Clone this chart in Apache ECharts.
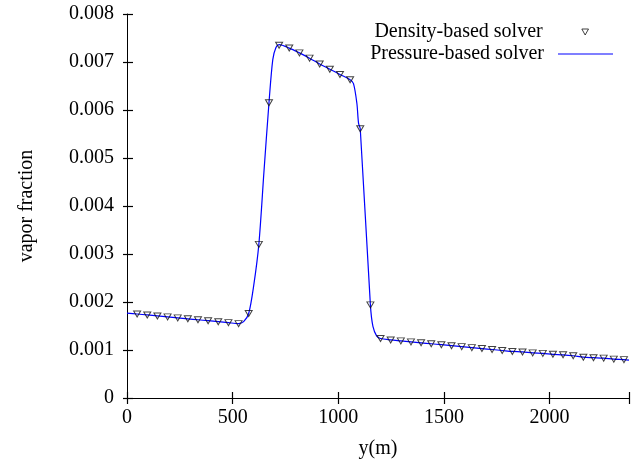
<!DOCTYPE html>
<html>
<head>
<meta charset="utf-8">
<script src="https://cdn.jsdelivr.net/npm/echarts@6/dist/echarts.min.js"></script>
<style>
html,body{margin:0;padding:0;background:#fff;}
#chart{width:632px;height:468px;}
</style>
</head>
<body>
<div id="chart"></div>
<script>
// Density-based solver (markers)
var markerX = [48,96,144,192,240,288,336,384,432,480,528,576,624,672,720,768,816,864,912,960,1008,1056,1104,1152,1200,1248,1296,1344,1392,1440,1488,1536,1584,1632,1680,1728,1776,1824,1872,1920,1968,2016,2064,2112,2160,2208,2256,2304,2352];
var markerY = [0.00175,0.00173,0.00171,0.00169,0.00167,0.00165,0.00163,0.00161,0.00159,0.00157,0.00155,
  0.00176,0.00320,0.00615,0.00735,0.00729,0.00719,0.00708,0.00696,0.00685,0.00674,0.00663,0.00561,0.00194,
  0.00124,0.00121,0.00119,0.00117,0.00115,0.00113,0.00111,0.00109,0.00107,0.00105,0.00103,
  0.00101,0.00099,0.00097,0.00096,0.00094,0.00093,0.00091,0.00090,0.00088,0.00085,0.00084,0.00083,0.00081,0.00080];
// Pressure-based solver (line)
var lineX = [0,48,96,144,192,240,288,336,384,432,480,528,552,576,600,624,648,672,690,705,720,768,816,864,912,960,1008,1056,1072,1088,1096,1104,1152,1164,1182,1200,1248,1296,1344,1392,1440,1488,1536,1584,1632,1680,1728,1776,1824,1872,1920,1968,2016,2064,2112,2160,2208,2256,2304,2352,2376];
var lineY = [0.00177,0.00175,0.00173,0.00171,0.00169,0.00167,0.00165,0.00163,0.00161,0.00159,0.00157,0.00155,0.00159,0.00176,0.00235,0.00320,0.00470,0.00615,0.00705,0.00730,0.00736,0.00729,0.00719,0.00708,0.00696,0.00685,0.00674,0.00663,0.00655,0.00614,0.00572,0.00561,0.00194,0.00149,0.00129,0.00124,0.00121,0.00119,0.00117,0.00115,0.00113,0.00111,0.00109,0.00107,0.00105,0.00103,0.00101,0.00099,0.00097,0.00096,0.00094,0.00093,0.00091,0.00090,0.00088,0.00085,0.00084,0.00083,0.00081,0.00080,0.00079];
var xTicks = [0,500,1000,1500,2000];
var xMax = 2376;
var yTickStep = 0.001;

var font = 'Liberation Serif';
function zip(a,b){return a.map(function(v,i){return [v,b[i]];});}

var chart = echarts.init(document.getElementById('chart'), null, {renderer:'canvas'});
var axisLine = {show:true, lineStyle:{color:'#000', width:1}};
var tick = {show:true, inside:true, length:6, lineStyle:{color:'#000', width:1.2}};
var legendText = {fontFamily:font, fontSize:20, color:'#000', lineHeight:20};
chart.setOption({
  animation:false,
  backgroundColor:'#fff',
  grid:{left:127, top:14, bottom:70, right:0, containLabel:false},
  legend:[{
    orient:'vertical', align:'right', right:43, top:22, padding:0,
    itemWidth:7, itemHeight:6,
    textStyle:Object.assign({padding:[0,34,0,0]}, legendText),
    data:[{name:'Density-based solver', icon:'path://M0,0 L10,0 L5,9 Z',
      itemStyle:{color:'rgba(255,255,255,0)', borderColor:'#111', borderWidth:1}}]
  },{
    orient:'vertical', align:'right', right:19, top:44, padding:0,
    itemWidth:55, itemHeight:1.2,
    textStyle:Object.assign({padding:[0,9,0,0]}, legendText),
    data:[{name:'Pressure-based solver', icon:'rect', itemStyle:{color:'#0000ff', borderWidth:0}}]
  }],
  xAxis:[{
    type:'value', min:0, max:xMax, interval:500, position:'bottom',
    axisLine:axisLine, axisTick:tick,
    splitLine:{show:false},
    axisLabel:{fontFamily:font, fontSize:20, color:'#000', margin:10,
      formatter:function(v){return xTicks.indexOf(v)>=0 ? String(v) : '';}},
    name:'y(m)', nameLocation:'middle', nameGap:41,
    nameTextStyle:{fontFamily:font, fontSize:20, color:'#000'}
  },{
    type:'value', min:0, max:xMax, interval:500, position:'top',
    axisLine:axisLine, axisTick:tick,
    splitLine:{show:false}, axisLabel:{show:false}
  }],
  yAxis:[{
    type:'value', min:0, max:0.008, interval:yTickStep, position:'left',
    axisLine:axisLine, axisTick:tick,
    splitLine:{show:false},
    axisLabel:{fontFamily:font, fontSize:20, color:'#000', margin:13,
      formatter:function(v){return v===0?'0':v.toFixed(3);}},
    name:'vapor fraction', nameLocation:'middle', nameGap:90,
    nameTextStyle:{fontFamily:font, fontSize:20, color:'#000'}
  },{
    type:'value', min:0, max:0.008, interval:yTickStep, position:'right',
    axisLine:{show:false}, axisTick:{show:true, inside:true, length:4, lineStyle:{color:'#000', width:1.2}},
    splitLine:{show:false}, axisLabel:{show:false}
  }],
  series:[{
    name:'Pressure-based solver', type:'line', data:zip(lineX,lineY),
    showSymbol:false, symbol:'none', smooth:0.3,
    lineStyle:{color:'#0000ff', width:1.2}, itemStyle:{color:'#0000ff'}, z:2
  },{
    name:'Density-based solver', type:'scatter', data:zip(markerX,markerY),
    symbol:'triangle', symbolRotate:180, symbolSize:[7,6],
    itemStyle:{color:'rgba(255,255,255,0)', borderColor:'#111', borderWidth:1}, z:3
  }]
});
</script>
</body>
</html>
